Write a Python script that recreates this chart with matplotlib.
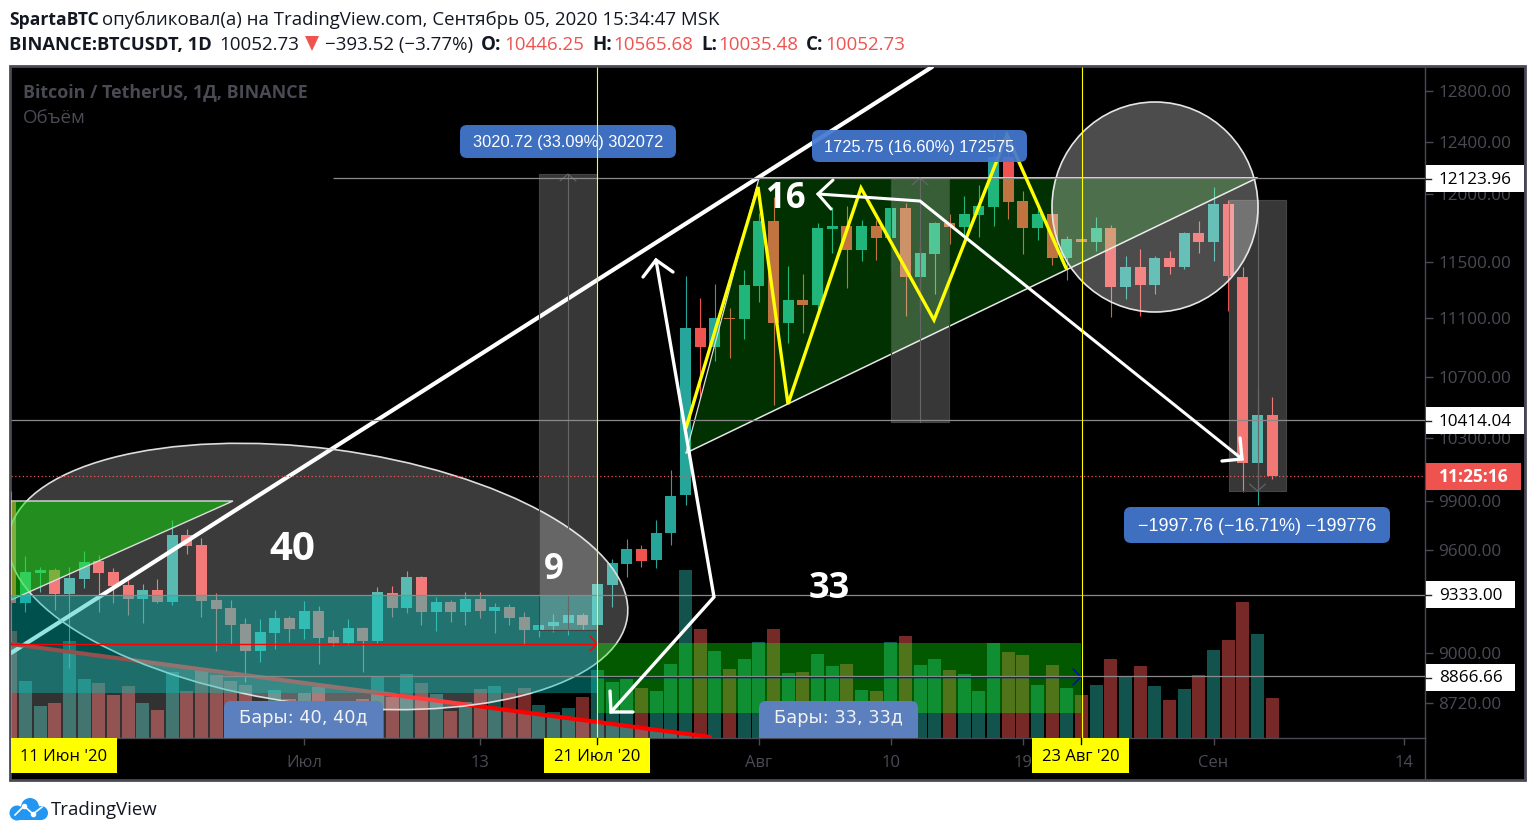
import numpy as np
import matplotlib
matplotlib.use('Agg')
import matplotlib.pyplot as plt
from matplotlib.patches import Rectangle, Ellipse, Polygon, Circle, FancyBboxPatch
from matplotlib.ticker import NullLocator
from matplotlib.transforms import Affine2D

# daily candles, 11 Jun 2020 = day 0
open_ = [9893, 9283, 9461, 9479, 9339, 9428, 9532, 9467, 9390, 9310,
         9361, 9292, 9688, 9628, 9302, 9256, 9163, 9011, 9114, 9197,
         9137, 9238, 9088, 9057, 9140, 9068, 9343, 9258, 9437, 9234,
         9290, 9234, 9308, 9240, 9261, 9203, 9131, 9154, 9171, 9215,
         9159, 9392, 9516, 9604, 9538, 9702, 9935, 11032, 10904, 11102,
         11095, 11328, 11798, 11068, 11228, 11190, 11739, 11762, 11587, 11762,
         11675, 11895, 11393, 11557, 11783, 11754, 11843, 11902, 12283, 11947,
         11749, 11850, 11530, 11666, 11644, 11747, 11322, 11462, 11335, 11528,
         11462, 11710, 11644, 11925, 11391, 10139, 10446.25]
high = [9960, 9562, 9498, 9488, 9498, 9592, 9566, 9490, 9420, 9396,
        9426, 9781, 9726, 9668, 9341, 9302, 9197, 9192, 9244, 9209,
        9296, 9267, 9129, 9192, 9148, 9379, 9382, 9473, 9443, 9320,
        9302, 9349, 9349, 9285, 9279, 9232, 9192, 9220, 9240, 9226,
        9412, 9544, 9664, 9628, 9781, 10092, 11398, 11242, 11340, 11172,
        11441, 11855, 11973, 11472, 11412, 11786, 11900, 11910, 11806, 11806,
        12068, 11930, 11615, 11791, 11850, 11983, 12068, 12470, 12470, 12022,
        11905, 11867, 11688, 11683, 11828, 11769, 11542, 11592, 11542, 11578,
        11717, 11799, 12052, 11955, 11462, 10631, 10565.68]
low = [9060, 9234, 9351, 9244, 8913, 9375, 9234, 9283, 9215, 9171,
       9283, 9273, 9574, 9205, 9011, 9049, 8835, 8950, 9023, 9062,
       9080, 8939, 9040, 9042, 8894, 9057, 9205, 9226, 9158, 9125,
       9177, 9158, 9199, 9114, 9159, 9051, 9091, 9119, 9103, 9129,
       9148, 9263, 9439, 9498, 9490, 9628, 9873, 10567, 10808, 10829,
       10958, 11215, 10512, 10931, 10995, 11145, 11562, 11314, 11509, 11514,
       11441, 11118, 11141, 11270, 11630, 11695, 11683, 11762, 11815, 11557,
       11658, 11477, 11369, 11622, 11578, 11110, 11235, 11118, 11270, 11412,
       11448, 11564, 11505, 11150, 9955, 9873, 10035.48]
close = [9283, 9467, 9479, 9339, 9432, 9526, 9461, 9386, 9310, 9361,
         9292, 9688, 9624, 9298, 9252, 9159, 9011, 9118, 9197, 9137,
         9238, 9085, 9057, 9140, 9068, 9349, 9258, 9437, 9234, 9290,
         9234, 9308, 9240, 9261, 9199, 9131, 9158, 9175, 9215, 9159,
         9396, 9520, 9604, 9534, 9702, 9929, 11032, 10904, 11102, 11095,
         11333, 11798, 11068, 11228, 11190, 11747, 11762, 11587, 11762, 11675,
         11895, 11393, 11564, 11783, 11754, 11850, 11910, 12283, 11940, 11749,
         11850, 11530, 11666, 11644, 11747, 11322, 11462, 11335, 11528, 11462,
         11710, 11644, 11925, 11395, 10138, 10446, 10052.73]
volume = [53.3, 28.7, 16.2, 17.7, 48.7, 29.7, 27.7, 21.7, 26.2, 17.7,
          14.2, 33.2, 23.7, 35.2, 31.7, 28.7, 26.7, 18.7, 24.2, 19.5,
          22.3, 25.3, 17.0, 18.7, 19.7, 31.2, 20.3, 32.2, 27.7, 22.2,
          13.3, 18.2, 24.7, 26.2, 22.7, 25.2, 16.7, 13.2, 15.2, 20.7,
          34.2, 28.2, 29.7, 25.2, 23.7, 37.2, 84.2, 54.7, 43.7, 34.7,
          39.7, 48.2, 54.7, 32.7, 33.2, 42.2, 36.2, 37.2, 24.2, 23.7,
          48.2, 51.2, 36.7, 39.7, 34.2, 32.2, 23.7, 47.7, 43.2, 41.7,
          26.7, 36.7, 25.2, 21.7, 26.7, 39.7, 30.3, 36.2, 26.2, 19.2,
          24.7, 31.7, 44.2, 49.2, 68.2, 52.2, 20.2]

price_ticks = [12800, 12400, 12000, 11500, 11100, 10700, 10300, 9900, 9600, 9000, 8720]
time_ticks = [20, 32, 51, 60, 69, 82, 95]
time_labels = ['Июл', '13', 'Авг', '10', '19', 'Сен', '14']

FRAME = '#4a4a55'
UP, DOWN = '#26a69a', '#ef5350'
INK = '#131722'
SANS = 'Open Sans'

fig = plt.figure(figsize=(15.35, 8.36), dpi=100, facecolor='white')
# pixel coordinates of the picture, y going down, for the hand drawn tools
px = Affine2D().scale(1, -1).translate(0, 836)

axpos = [11 / 1535, 1 - 738 / 836, 1414 / 1535, 671 / 836]
axv = fig.add_axes(axpos, zorder=1, facecolor='black')
ax = fig.add_axes(axpos, zorder=2)
ax.patch.set_visible(False)

days = np.arange(len(close))
o, h, l, c = map(np.array, (open_, high, low, close))
colors = np.where(c >= o, UP, DOWN)

# volume pane
axv.bar(days, volume, width=0.88, color=colors, alpha=0.5, linewidth=0)
axv.set_xlim(0.02, 96.41)
axv.set_ylim(0, 335.5)
axv.axis('off')

# candles
ax.set_yscale('log')
ax.vlines(days, l, h, colors=colors, linewidth=0.8, zorder=2)
ax.bar(days, np.abs(c - o), bottom=np.minimum(o, c), width=0.75, color=colors, linewidth=0, zorder=2)
ax.set_xlim(0.02, 96.41)
ax.set_ylim(8531, 12994)

ax.yaxis.tick_right()
ax.set_yticks(price_ticks, ['%.2f' % p for p in price_ticks])
ax.yaxis.set_minor_locator(NullLocator())
ax.tick_params(axis='y', length=6, width=1, color=FRAME, labelcolor=FRAME, labelsize=12.3, pad=3.7)
ax.set_xticks(time_ticks, time_labels)
ax.tick_params(axis='x', length=5, width=1, color=FRAME, labelcolor=FRAME, labelsize=12, pad=7)
for lab in ax.get_xticklabels() + ax.get_yticklabels():
    lab.set_family(SANS)
for s in ('left', 'top'):
    ax.spines[s].set_visible(False)
for s in ('right', 'bottom'):
    ax.spines[s].set_color(FRAME)
    ax.spines[s].set_linewidth(1)

# horizontal levels
ax.hlines(12123.96, 22, 96.41, colors='#8a8a8a', linewidth=0.9, zorder=6)
ax.hlines(10414.04, 0, 96.41, colors='#8a8a8a', linewidth=0.9, zorder=6)
ax.hlines(9333.0, 0, 96.41, colors='#8a8a8a', linewidth=0.9, zorder=6)
ax.hlines(8866.66, 14, 96.41, colors='#8a8a8a', linewidth=0.9, zorder=6)
ax.hlines(10052.73, 0, 96.41, colors=DOWN, linewidth=0.9, linestyles=(0, (1, 2)), zorder=6)


def line(pts, color='white', lw=2.2, z=7, alpha=1):
    xs, ys = zip(*pts)
    ax.plot(xs, ys, color=color, lw=lw, zorder=z, alpha=alpha, transform=px,
            solid_capstyle='round', solid_joinstyle='miter')


def shape(pts, fc, alpha, z, ec='none', lw=0):
    fill = Polygon(pts, closed=True, facecolor=matplotlib.colors.to_rgba(fc, alpha),
                   edgecolor=ec, linewidth=lw, zorder=z, transform=px)
    ax.add_patch(fill)


def box(x0, y0, x1, y1, fc, alpha, z, ec='none', lw=0):
    shape([(x0, y0), (x1, y0), (x1, y1), (x0, y1)], fc, alpha, z, ec, lw)


def pill(x0, y0, x1, y1, fc, label='', size=11.8, alpha=0.93):
    ax.add_patch(FancyBboxPatch((x0, y0), x1 - x0, y1 - y0, boxstyle='round,pad=0,rounding_size=7',
                                facecolor=matplotlib.colors.to_rgba(fc, alpha), edgecolor='none',
                                zorder=9, transform=px))
    ax.text((x0 + x1) / 2, (y0 + y1) / 2 + 1.5, label, color='white', family='Liberation Sans', fontsize=size,
            ha='center', va='center', zorder=10, transform=px)


# lines lying under the translucent areas
shape([(11, 644), (710, 737), (710, 738), (11, 738)], 'white', 0.2, 2.9)
line([(11, 653), (932, 67)], lw=3, z=3)
line([(11, 644), (710, 737)], color='#ff0000', lw=3, z=3)

ax.add_patch(Ellipse((318, 576.5), 624, 256, angle=7.45, facecolor=(1, 1, 1, 0.235),
                     edgecolor='#dddddd', linewidth=1.2, zorder=3.1, transform=px))
shape([(11, 501), (233, 501), (11, 600)], '#0ce204', 0.5, 3.2, ec='#dddddd', lw=1)
box(11, 594.5, 597, 692.5, '#00c0b8', 0.42, 3.3)
line([(11, 644), (597, 644)], color='#ff0000', lw=1, z=3.4)
line([(590, 636), (597, 644), (590, 651)], color='#ff0000', lw=1, z=3.4)

# green range
box(597, 643, 1081, 713, '#08ff00', 0.353, 3.3)
line([(597, 677), (1081, 677)], color='#0000c8', lw=1, z=3.4)
line([(1073, 669), (1081, 677), (1073, 685)], color='#0000c8', lw=1, z=3.4)

# pennant
shape([(686, 453), (759, 178), (1257, 178)], '#0afa00', 0.2, 3.3)
line([(686, 453), (759, 178)], color='#dddddd', lw=0.9, z=3.5)
line([(686, 453), (1257, 178)], color='#e6e6e6', lw=1.1, z=3.5)
line([(759, 178), (1257, 178)], color='#e6e6e6', lw=1.3, z=3.5)

# measure boxes
for x0, x1, y0, y1, tip, wing in [(539, 597, 174, 630, 174, 181),
                                  (891, 949, 178, 422, 178, 185),
                                  (1229, 1286, 200, 491, 491, 484)]:
    box(x0, y0, x1, y1, 'white', 0.22, 3.6, ec='#444444', lw=0.8)
    mid = (x0 + x1) / 2
    line([(mid, y0), (mid, y1)], color='#666666', lw=0.8, z=3.7)
    line([(mid - 8, wing), (mid, tip), (mid + 8, wing)], color='#666666', lw=0.8, z=3.7)

ax.add_patch(Ellipse((1155, 207), 206, 210, facecolor=(1, 1, 1, 0.3), edgecolor='#e6e6e6',
                     linewidth=1.2, zorder=3.8, transform=px))

# yellow zigzag
line([(686, 428), (758, 187), (788, 404), (861, 188), (934, 320), (1007, 135), (1066, 268)],
     color='#ffff00', lw=2.4, z=7)

# white arrows
line([(611, 712), (714, 597), (656, 260)], lw=2.4, z=8)
line([(643, 277), (656, 260), (673, 272)], lw=2.4, z=8)
line([(610, 691), (611, 712), (633, 712)], lw=2.4, z=8)
line([(818, 194), (920, 201), (1242, 459)], lw=2.2, z=8)
line([(833, 180), (818, 194), (831, 209)], lw=2.2, z=8)
line([(1240, 438), (1242, 459), (1222, 461)], lw=2.4, z=8)

# vertical date markers
ax.vlines([40, 73], 8531, 12994, colors='#ffff00', linewidth=0.8, zorder=9.5)

pill(460, 125, 676, 158, '#4478d0', '3020.72 (33.09%) 302072')
pill(812, 130, 1027, 162, '#4478d0', '1725.75 (16.60%) 172575')
pill(1124, 507, 1390, 543, '#4478d0', '−1997.76 (−16.71%) −199776', size=12.9)
pill(224, 701, 383, 745, '#5b80bd', alpha=1)
pill(759, 701, 918, 745, '#5b80bd', alpha=1)
ax.text(303.5, 718, 'Бары: 40, 40д', color='#f2f2f2', family='DejaVu Sans', fontsize=12.8, ha='center', va='center',
        zorder=10, transform=px)
ax.text(838.5, 718, 'Бары: 33, 33д', color='#f2f2f2', family='DejaVu Sans', fontsize=12.8, ha='center', va='center',
        zorder=10, transform=px)

for t, x, y, s in [('40', 292, 550, 29), ('9', 554, 570, 25), ('16', 786, 199, 25), ('33', 829, 589, 26)]:
    ax.text(x, y, t, color='white', family=SANS, weight='bold', fontsize=s, ha='center', va='center',
            zorder=11, transform=px)

ax.text(23, 97, 'Bitcoin / TetherUS, 1Д, BINANCE', color=FRAME, family=SANS, weight='bold',
        fontsize=12.9, zorder=11, transform=px)
ax.text(23, 123, 'Объём', color=FRAME, family=SANS, fontsize=13.5, zorder=11, transform=px)


def fig_box(x0, y0, x1, y1, fc, z=5):
    fig.add_artist(Rectangle((x0, y0), x1 - x0, y1 - y0, facecolor=fc, edgecolor='none', zorder=z, transform=px))


def fig_text(x, y, s, color=INK, weight='normal', size=13.5, ha='left', va='baseline', family=SANS):
    fig.text(x, y, s, color=color, weight=weight, fontsize=size, ha=ha, va=va, family=family, zorder=7, transform=px)


# frame of the chart
fig.add_artist(Rectangle((10, 66), 1515, 714, facecolor='black', edgecolor=FRAME, linewidth=2, zorder=-1, transform=px))
fig.add_artist(plt.Line2D([1425, 1425], [738, 780], color=FRAME, lw=1, transform=px, zorder=5))

# price labels
for y0, y1, label in [(165, 192, '12123.96'), (407, 434, '10414.04'), (581, 608, '9333.00'), (664, 691, '8866.66')]:
    fig_box(1426, y0, 1524 if label[0] == '1' else 1515, y1, 'white')
    fig_text(1439, (y0 + y1) / 2 + 1, label, color='black', size=12.3, va='center')
    fig.add_artist(plt.Line2D([1425, 1431], [(y0 + y1) / 2] * 2, color='#222222', lw=1, transform=px, zorder=6))
fig_box(1426, 463, 1521, 490, DOWN)
fig_text(1439, 477.5, '11:25:16', color='white', weight='bold', size=12.5, va='center')

# date labels
for x0, x1, label in [(11, 117, "11 Июн '20"), (544, 650, "21 Июл '20"), (1032, 1129, "23 Авг '20")]:
    fig_box(x0, 738, x1, 773, '#ffff00')
    fig_text((x0 + x1) / 2, 757, label, color='black', size=12, ha='center', va='center')
fig.add_artist(plt.Line2D([597, 597], [738, 744], color='black', lw=1, transform=px, zorder=6))
fig.add_artist(plt.Line2D([1081, 1081], [738, 744], color='black', lw=1, transform=px, zorder=6))

# header
fig_text(9, 25, 'SpartaBTC', weight='bold', size=12.6)
fig_text(102, 25, 'опубликовал(а) на TradingView.com, Сентябрь 05, 2020 15:34:47 MSK', size=13.4)
fig_text(9, 50, 'BINANCE:BTCUSDT, 1D', weight='bold', size=13.2)
fig_text(219, 50, '10052.73')
fig.add_artist(Polygon([(305, 36), (319, 36), (312, 51)], closed=True, facecolor=DOWN, edgecolor='none', transform=px))
fig_text(325, 50, '−393.52 (−3.77%)')
for x, s, xv, v in [(481, 'O:', 504, '10446.25'), (592, 'H:', 613, '10565.68'),
                    (701, 'L:', 718, '10035.48'), (806, 'C:', 825, '10052.73')]:
    fig_text(x, 50, s, weight='bold')
    fig_text(xv, 50, v, color=DOWN)

# logo
for cx, cy, r in [(17, 813, 7.5), (30, 807, 9), (41, 813, 7)]:
    fig.add_artist(Circle((cx, cy), r, facecolor='#2196f3', edgecolor='none', transform=px, zorder=2))
fig_box(17, 810, 41, 820, '#2196f3', z=2)
fig.add_artist(plt.Line2D([15, 24, 33, 42], [815, 806, 814, 807], color='white', lw=1.2, marker='o',
                          markersize=3, markevery=[1, 2], transform=px, zorder=3))
fig_text(51, 815, 'TradingView', size=13.4)

fig.savefig('out.png', dpi=100, facecolor='white')
